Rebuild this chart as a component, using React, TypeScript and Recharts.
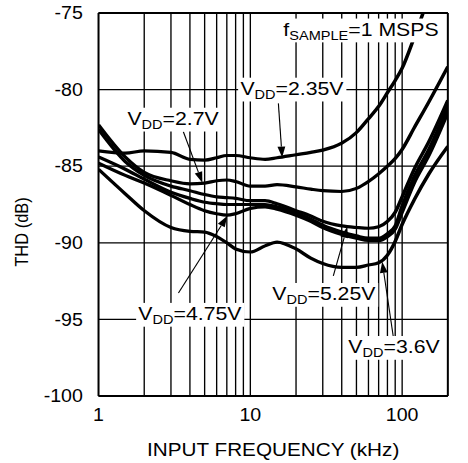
import { useLayoutEffect, useRef, useState } from 'react'
import { LineChart, Line, XAxis, YAxis, CartesianGrid, ReferenceLine, ReferenceDot } from 'recharts'

// input frequency (kHz)
const freqs = [1, 1.5, 2, 3, 4, 5, 6, 7, 8, 10, 12.5, 15, 20, 25, 30, 40, 50, 60, 70, 80, 90, 100, 120, 150, 200]

// THD (dB) per supply voltage
const vdd235 = [-84.0, -84.15, -84.0, -84.1, -84.55, -84.6, -84.45, -84.3, -84.3, -84.45, -84.55, -84.45, -84.25, -84.1, -83.95, -83.5, -82.8, -81.9, -81.1, -80.2, -79.4, -78.6, -76.6, -73.9, -70.0]
const vdd27 = [-82.3, -84.4, -85.4, -85.95, -86.15, -86.1, -85.95, -85.9, -86.0, -86.3, -86.3, -86.2, -86.35, -86.5, -86.6, -86.65, -86.45, -86.0, -85.5, -85.0, -84.5, -83.9, -82.5, -80.8, -78.5]
const vdd525 = [-82.6, -84.7, -85.6, -86.3, -86.6, -86.85, -87.0, -87.05, -87.1, -87.25, -87.25, -87.45, -87.9, -88.25, -88.6, -88.9, -89.0, -89.05, -88.95, -88.6, -88.0, -87.0, -85.2, -83.4, -80.7]
const vddOther = [-84.4, -85.2, -85.85, -86.7, -87.1, -87.35, -87.45, -87.5, -87.5, -87.5, -87.5, -87.65, -88.05, -88.45, -88.85, -89.3, -89.55, -89.7, -89.7, -89.4, -88.9, -87.6, -85.7, -83.9, -81.1]
const vdd475 = [-84.8, -85.6, -86.1, -86.9, -87.5, -87.9, -88.1, -88.2, -88.1, -87.75, -87.65, -87.8, -88.2, -88.6, -89.0, -89.45, -89.7, -89.85, -89.85, -89.6, -89.1, -88.0, -86.1, -84.3, -81.5]
const vdd36 = [-85.2, -86.8, -87.9, -89.0, -89.25, -89.3, -89.6, -90.0, -90.4, -90.6, -90.2, -89.95, -90.4, -91.0, -91.35, -91.6, -91.6, -91.45, -91.3, -90.8, -89.9, -88.8, -87.2, -85.5, -83.7]

const xTicks = [1, 10, 100]
const yTicks = [-100, -95, -90, -85, -80, -75]
const minorFreqs = [2, 3, 4, 5, 6, 7, 8, 9, 10, 20, 30, 40, 50, 60, 70, 80, 90, 100]

// annotation text, anchored at start of baseline (freq, dB)
const tags = [
  { f: 16.5, db: -76.47, main: 'f', sub: 'SAMPLE', rest: '=1 MSPS' },
  { f: 8.6, db: -80.33, main: 'V', sub: 'DD', rest: '=2.35V' },
  { f: 1.55, db: -82.29, main: 'V', sub: 'DD', rest: '=2.7V' },
  { f: 1.83, db: -95.03, main: 'V', sub: 'DD', rest: '=4.75V' },
  { f: 13.95, db: -93.73, main: 'V', sub: 'DD', rest: '=5.25V' },
  { f: 44.2, db: -97.19, main: 'V', sub: 'DD', rest: '=3.6V' },
]

// arrows from label to curve: [freq, dB] -> [freq, dB]
const arrows = [
  { from: [15.3, -80.9], to: [16.2, -84.44] },
  { from: [3.62, -82.75], to: [4.83, -86.08] },
  { from: [3.36, -93.27], to: [7.06, -88.24] },
  { from: [35.2, -92.16], to: [43.5, -88.95] },
  { from: [87.3, -96.08], to: [73.9, -91.24] },
]

const series = [vdd235, vdd27, vdd525, vddOther, vdd475, vdd36]
const rows = freqs.map((f, i) => {
  const row: Record<string, number> = { f }
  series.forEach((s, k) => { row['s' + k] = s[i] })
  return row
})

const FONT = '"Liberation Sans", Arial, sans-serif'
const STRETCH = 468 / 418

function Tag({ cx, cy, main, sub, rest }: any) {
  const ref = useRef<SVGTextElement>(null)
  const [box, setBox] = useState<{ x: number; y: number; w: number; h: number } | null>(null)
  useLayoutEffect(() => {
    if (ref.current) {
      const b = ref.current.getBBox()
      setBox({ x: b.x, y: b.y, w: b.width, h: b.height })
    }
  }, [cx, cy])
  return (
    <g>
      {box && <rect x={box.x - 2} y={box.y} width={box.w + 4} height={box.h} fill="#fff" />}
      <text ref={ref} x={cx} y={cy} fontFamily={FONT} fontSize={19} fill="#000">
        {main}
        <tspan fontSize={13} dy={4}>{sub}</tspan>
        <tspan fontSize={19} dy={-4}>{rest}</tspan>
      </text>
    </g>
  )
}

function Arrow({ x1, y1, x2, y2 }: any) {
  const dx = x2 - x1, dy = y2 - y1
  const len = Math.sqrt(dx * dx + dy * dy) || 1
  const ux = dx / len, uy = dy / len
  const bx = x2 - ux * 11, by = y2 - uy * 11
  const head = `${x2},${y2} ${bx - uy * 3.5},${by + ux * 3.5} ${bx + uy * 3.5},${by - ux * 3.5}`
  return (
    <g>
      <line x1={x1} y1={y1} x2={bx} y2={by} stroke="#000" strokeWidth={1} />
      <polygon points={head} fill="#000" />
    </g>
  )
}

export default function App() {
  return (
    <div style={{ position: 'absolute', left: 0, top: 0, width: 418, height: 463, background: '#fff', transform: `scaleX(${STRETCH})`, transformOrigin: '0 0' }}>
      <LineChart width={418} height={463} data={rows} margin={{ top: 13, right: 18, bottom: 37, left: 0 }}>
        <CartesianGrid vertical={false} stroke="#000" strokeWidth={1.3} />
        {minorFreqs.map(v => (
          <ReferenceLine key={v} x={v} stroke="#000" strokeWidth={1.2} />
        ))}
        <ReferenceLine x={200} stroke="#000" strokeWidth={1.8} />
        <ReferenceLine y={-75} stroke="#000" strokeWidth={1.8} />
        <XAxis
          dataKey="f" type="number" scale="log" domain={[1, 200]} ticks={xTicks} allowDataOverflow height={30}
          tickLine={false} axisLine={{ stroke: '#000', strokeWidth: 1.8 }} tickMargin={7}
          tick={{ fill: '#000', fontSize: 17.5, fontFamily: FONT }}
          label={{
            content: ({ viewBox }: any) => (
              <text x={viewBox.x + viewBox.width / 2} y={456} textAnchor="middle" fontFamily={FONT} fontSize={18.5} fill="#000">
                INPUT FREQUENCY (kHz)
              </text>
            ),
          }}
        />
        <YAxis
          type="number" domain={[-100, -75]} ticks={yTicks} allowDataOverflow width={88}
          tickLine={false} axisLine={{ stroke: '#000', strokeWidth: 1.8 }} tickMargin={8}
          tick={{ fill: '#000', fontSize: 17.5, fontFamily: FONT }}
          label={{
            content: () => (
              <text x={19} y={232} transform="rotate(-90 19 232)" textAnchor="middle" dominantBaseline="central" fontFamily={FONT} fontSize={16.5} fill="#000">
                THD (dB)
              </text>
            ),
          }}
        />
        {series.map((_, k) => (
          <Line key={k} dataKey={'s' + k} type="monotone" stroke="#000" strokeWidth={3.2} dot={false} isAnimationActive={false} />
        ))}
        {arrows.map((a, i) => (
          <ReferenceLine
            key={'a' + i}
            segment={[{ x: a.from[0], y: a.from[1] }, { x: a.to[0], y: a.to[1] }]}
            shape={(p: any) => <Arrow {...p} />}
          />
        ))}
        {tags.map((t, i) => (
          <ReferenceDot
            key={'t' + i} x={t.f} y={t.db} r={0}
            shape={(p: any) => <Tag cx={p.cx} cy={p.cy} main={t.main} sub={t.sub} rest={t.rest} />}
          />
        ))}
      </LineChart>
    </div>
  )
}
